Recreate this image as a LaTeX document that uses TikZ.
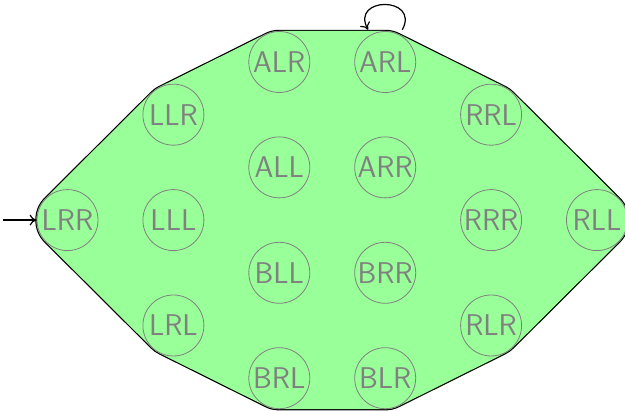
\documentclass[tikz,border=0pt]{standalone}
\usetikzlibrary{arrows.meta,backgrounds}
\definecolor{hullgreen}{RGB}{153,255,153}
\definecolor{stgray}{RGB}{128,128,128}
\tikzset{
  state/.style={circle, draw=stgray, line width=0.8pt, text=stgray, minimum size=61pt, inner sep=0pt,
    font=\sffamily\fontsize{30}{32}\selectfont},
  conn/.style={line width=1.2pt, -{To[length=7pt,width=11pt]}},
}
\begin{document}
\begin{tikzpicture}[x=1pt,y=1pt]
\useasboundingbox (0,0) rectangle (625,411);
\node[state] (LRR) at (67.5,190.9) {LRR};
\node[state] (LLR) at (173.4,296.3) {LLR};
\node[state] (LLL) at (173.4,190.9) {LLL};
\node[state] (LRL) at (173.4,85.5) {LRL};
\node[state] (ALR) at (279.3,349) {ALR};
\node[state] (ALL) at (279.3,243.6) {ALL};
\node[state] (BLL) at (279.3,138.2) {BLL};
\node[state] (BRL) at (279.3,32.8) {BRL};
\node[state, outer sep=6pt] (ARL) at (385.2,349) {ARL};
\node[state] (ARR) at (385.2,243.6) {ARR};
\node[state] (BRR) at (385.2,138.2) {BRR};
\node[state] (BLR) at (385.2,32.8) {BLR};
\node[state] (RRL) at (491.1,296.3) {RRL};
\node[state] (RRR) at (491.1,190.9) {RRR};
\node[state] (RLR) at (491.1,85.5) {RLR};
\node[state] (RLL) at (597.0,190.9) {RLL};
\begin{scope}[on background layer]
  \draw[line width=64.4pt, line join=round, black]
    (LRR.center) -- (LLR.center) -- (ALR.center) -- (ARL.center) -- (RRL.center) -- (RLL.center)
    -- (RLR.center) -- (BLR.center) -- (BRL.center) -- (LRL.center) -- cycle;
  \draw[line width=62pt, line join=round, hullgreen, fill=hullgreen]
    (LRR.center) -- (LLR.center) -- (ALR.center) -- (ARL.center) -- (RRL.center) -- (RLL.center)
    -- (RLR.center) -- (BLR.center) -- (BRL.center) -- (LRL.center) -- cycle;
\end{scope}
\coordinate (init) at (3,190.9);
\draw[conn] (init) -- (LRR);
\draw[conn] (ARL) to[out=62, in=118, distance=38pt] (ARL);
\end{tikzpicture}
\end{document}
